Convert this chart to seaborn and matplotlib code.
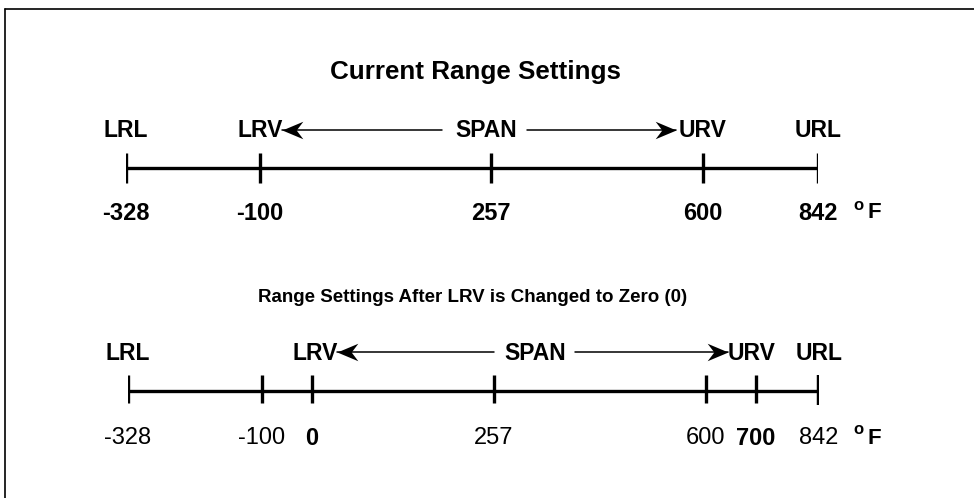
import numpy as np
import matplotlib
matplotlib.use("Agg")
import matplotlib.pyplot as plt
from matplotlib.path import Path
import seaborn as sns

sns.set_theme(style="white")
plt.rcParams["font.family"] = ["Liberation Sans", "DejaVu Sans"]
plt.rcParams["text.color"] = "black"

# valores das escalas (graus F)
top_values = [-328, -100, 257, 600, 842]
top_value_labels = ["-328", "-100", "257", "600", "842"]
top_names = ["LRL", "LRV", "SPAN", "URV", "URL"]
top_name_at = [-328, -100, 250, 600, 842]

bot_values = [-328, -100, 0, 257, 600, 700, 842]
bot_value_labels = ["-328", "-100", "0", "257", "600", "700", "842"]
bot_bold = [False, False, True, False, False, True, False]
bot_names = ["LRL", "LRV", "SPAN", "URV", "URL"]
bot_name_at = [-328, 5, 323, 692, 842]

W, H = 974, 498
fig = plt.figure(figsize=(W / 100, H / 100), dpi=100)

# moldura (só topo e esquerda)
fig.add_artist(plt.Line2D([5 / W, 1], [1 - 9 / H, 1 - 9 / H], color="black", lw=1.2))
fig.add_artist(plt.Line2D([5 / W, 5 / W], [0, 1 - 9 / H], color="black", lw=1.2))

# ponta de seta "stealth" (ponta em 0,0)
head_r = Path([(0, 0), (-1, 0.42), (-0.68, 0), (-1, -0.42), (0, 0)],
              [Path.MOVETO, Path.LINETO, Path.LINETO, Path.LINETO, Path.CLOSEPOLY])
head_l = Path([(0, 0), (1, 0.42), (0.68, 0), (1, -0.42), (0, 0)],
              [Path.MOVETO, Path.LINETO, Path.LINETO, Path.LINETO, Path.CLOSEPOLY])


def make_axis(values, layout_px):
    # escala esquemática (não linear) entre os pontos do desenho
    left, right = layout_px[0], layout_px[-1]
    ax = fig.add_axes([left / W, 0, (right - left) / W, 1])
    fwd = lambda v: np.interp(v, values, layout_px)
    inv = lambda p: np.interp(p, layout_px, values)
    ax.set_xscale("function", functions=(fwd, inv))
    ax.set_xlim(values[0], values[-1])
    ax.set_ylim(H, 0)
    ax.axis("off")
    ax.patch.set_alpha(0)
    return ax


def arrow(ax, tail, tip, y):
    ax.plot([tail, tip], [y, y], color="black", lw=1.1, clip_on=False)
    ax.plot([tip], [y], marker=head_r if tip > tail else head_l, ms=30,
            color="black", mew=0, clip_on=False)


# ---- escala atual ----
ax1 = make_axis(top_values, [126, 260, 491, 703, 818])
sns.lineplot(x=[top_values[0], top_values[-1]], y=[168, 168], ax=ax1, color="black", lw=2.4)
ax1.vlines(top_values, 153, 183, color="black", lw=2.4)
for v, t in zip(top_values, top_value_labels):
    ax1.text(v, 213, t, ha="center", va="center", fontsize=17, fontweight="bold", clip_on=False)
for v, t in zip(top_name_at, top_names):
    ax1.text(v, 130, t, ha="center", va="center", fontsize=16.5, fontweight="bold", clip_on=False)
arrow(ax1, 181, -66, 130)
arrow(ax1, 315, 556, 130)

# ---- escala depois de LRV = 0 ----
ax2 = make_axis(bot_values, [128, 262, 312, 494, 706, 756, 819])
sns.lineplot(x=[bot_values[0], bot_values[-1]], y=[391, 391], ax=ax2, color="black", lw=2.4)
ax2.vlines(bot_values[:-1], 375, 403, color="black", lw=2.4)
ax2.vlines(bot_values[-1:], 375, 405, color="black", lw=3.2)
for v, t, b in zip(bot_values, bot_value_labels, bot_bold):
    ax2.text(v, 438, t, ha="center", va="center", fontsize=17,
             fontweight="bold" if b else "normal", clip_on=False)
for v, t in zip(bot_name_at, bot_names):
    ax2.text(v, 353, t, ha="center", va="center", fontsize=16.5, fontweight="bold", clip_on=False)
arrow(ax2, 257, 35, 352)
arrow(ax2, 388, 644, 352)

# títulos e unidade
fig.text(476 / W, 1 - 72 / H, "Current Range Settings", ha="center", va="center",
         fontsize=18.7, fontweight="bold")
fig.text(473 / W, 1 - 298 / H, "Range Settings After LRV is Changed to Zero (0)",
         ha="center", va="center", fontsize=13.5, fontweight="bold")
for y in (213, 438):
    fig.text(858 / W, 1 - (y - 8) / H, "o", ha="center", va="center", fontsize=12, fontweight="bold")
    fig.text(874 / W, 1 - y / H, "F", ha="center", va="center", fontsize=16, fontweight="bold")

fig.savefig("out.png", dpi=100, facecolor="white")
